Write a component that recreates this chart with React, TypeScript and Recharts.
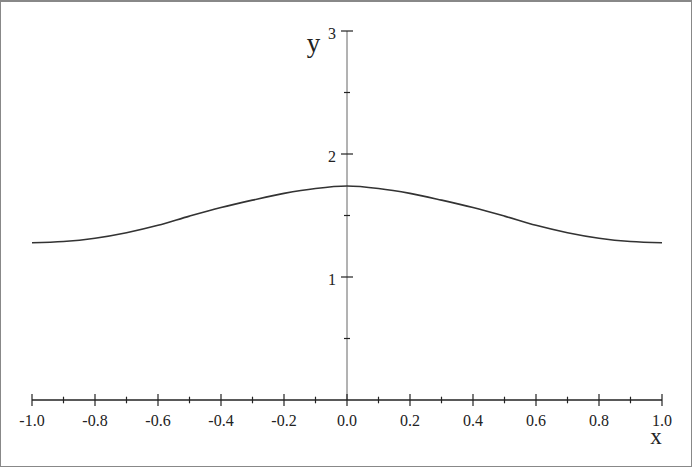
import { LineChart, Line, XAxis, YAxis, ReferenceLine, ReferenceDot } from "recharts";

const xValues = [-1.0, -0.9, -0.8, -0.7, -0.6, -0.5, -0.4, -0.3, -0.2, -0.1, 0.0, 0.1, 0.2, 0.3, 0.4, 0.5, 0.6, 0.7, 0.8, 0.9, 1.0];
const yValues = [1.278, 1.288, 1.315, 1.36, 1.42, 1.495, 1.565, 1.625, 1.68, 1.72, 1.74, 1.72, 1.68, 1.625, 1.565, 1.495, 1.42, 1.36, 1.315, 1.288, 1.278];

const xTicks = [-1.0, -0.9, -0.8, -0.7, -0.6, -0.5, -0.4, -0.3, -0.2, -0.1, 0.0, 0.1, 0.2, 0.3, 0.4, 0.5, 0.6, 0.7, 0.8, 0.9, 1.0];
const yTicks = [0.5, 1, 1.5, 2, 2.5, 3];
const yLabelled = [1, 2, 3];

const data = xValues.map((x, i) => ({ x, y: yValues[i] }));

const FONT = '"Liberation Serif", "DejaVu Serif", serif';
const INK = "#222";

function XTick({ x, y, payload }: any) {
  const v = payload.value as number;
  const major = Math.round(v * 10) % 2 === 0;
  const len = major ? 6 : 3.3;
  return (
    <g>
      <line x1={x} x2={x} y1={y - len} y2={y + len} stroke={INK} strokeWidth={1.2} />
      {major && (
        <text x={x} y={y + 26} textAnchor="middle" fontFamily={FONT} fontSize={16} fill={INK}>
          {v.toFixed(1)}
        </text>
      )}
    </g>
  );
}

const yTickShape = (v: number) => (props: any) => {
  const { cx, cy } = props;
  const major = yLabelled.includes(v);
  const len = major ? 6 : 3;
  return (
    <g>
      <line x1={cx - len} x2={cx + len} y1={cy} y2={cy} stroke={INK} strokeWidth={1.2} />
      {major && (
        <text x={cx - 11} y={cy + 7.5} textAnchor="end" fontFamily={FONT} fontSize={16} fill={INK}>
          {v}
        </text>
      )}
    </g>
  );
};

const yLabelShape = (props: any) => (
  <text x={props.cx - 33.5} y={props.cy + 21} textAnchor="middle" fontFamily={FONT} fontSize={27} fill={INK}>
    y
  </text>
);

const xLabelShape = (props: any) => (
  <text x={props.cx - 6} y={props.cy + 44} textAnchor="middle" fontFamily={FONT} fontSize={23} fill={INK}>
    x
  </text>
);

export default function App() {
  return (
    <div style={{ position: "absolute", left: 0, top: 0, width: 692, height: 467, background: "#fff" }}>
      <LineChart width={692} height={467} data={data} margin={{ top: 31, right: 30, bottom: 27, left: 32 }}>
        <XAxis
          dataKey="x"
          type="number"
          domain={[-1, 1]}
          ticks={xTicks}
          interval={0}
          height={40}
          tickSize={0}
          tickMargin={0}
          tickLine={false}
          axisLine={{ stroke: INK, strokeWidth: 1.3 }}
          tick={<XTick />}
        />
        <YAxis type="number" domain={[0, 3]} hide width={0} />
        <ReferenceLine x={0} stroke="#666" strokeWidth={1} />
        {yTicks.map((v) => (
          <ReferenceDot key={v} x={0} y={v} r={1} shape={yTickShape(v)} />
        ))}
        <ReferenceDot x={0} y={3} r={1} shape={yLabelShape} />
        <ReferenceDot x={1} y={0} r={1} shape={xLabelShape} />
        <Line
          type="monotone"
          dataKey="y"
          stroke="#333"
          strokeWidth={1.6}
          dot={false}
          isAnimationActive={false}
        />
      </LineChart>
      <div
        style={{
          position: "absolute",
          inset: 0,
          border: "1px solid #888",
          borderTopWidth: 2,
          boxSizing: "border-box",
          pointerEvents: "none",
        }}
      />
    </div>
  );
}
